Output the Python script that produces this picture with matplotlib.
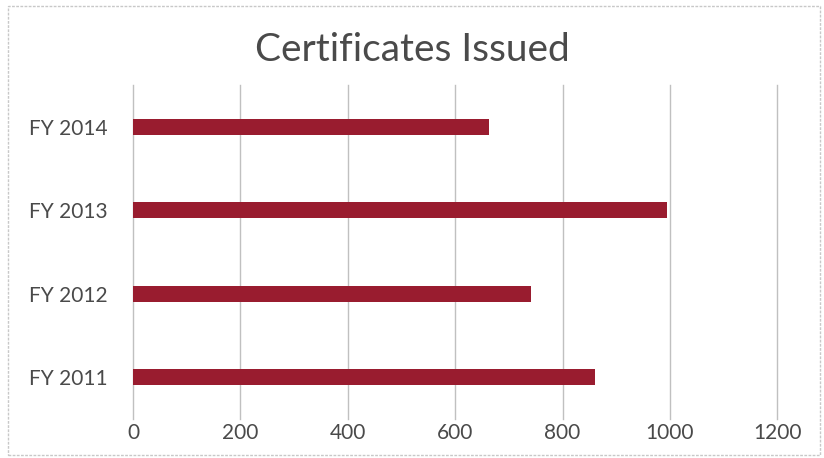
import matplotlib.pyplot as plt
from matplotlib.patches import Rectangle

# Data
years = ["FY 2011", "FY 2012", "FY 2013", "FY 2014"]
certificates = [860, 742, 994, 663]
x_ticks = [0, 200, 400, 600, 800, 1000, 1200]

bar_color = "#991c2f"
text_color = "#4a4a4a"

plt.rcParams["font.family"] = ["Lato", "DejaVu Sans"]

fig = plt.figure(figsize=(8.24, 4.58), dpi=100)
ax = fig.add_axes([0.1614, 0.085, 0.782, 0.729])

ax.barh(years, certificates, height=0.19, color=bar_color, zorder=3)

ax.set_xlim(0, 1200)
ax.set_ylim(-0.5, 3.5)
ax.set_xticks(x_ticks)
ax.set_xticklabels([str(t) for t in x_ticks])
ax.grid(axis="x", color="#c0c0c0", linewidth=1.0, zorder=0)
ax.grid(axis="y", visible=False)
for gl in ax.get_xgridlines():
    gl.set_clip_on(False)

for s in ax.spines.values():
    s.set_visible(False)
ax.tick_params(axis="both", length=0, labelsize=15, labelcolor=text_color)
ax.tick_params(axis="x", pad=3)
ax.tick_params(axis="y", pad=18)

fig.text(0.5, 0.89, "Certificates Issued", ha="center", va="center",
         fontsize=28, color=text_color)

# outer border
fig.patches.append(Rectangle((0.01, 0.006), 0.985, 0.98, transform=fig.transFigure,
                             fill=False, edgecolor="#c8c8c8", linewidth=1.0,
                             linestyle=(0, (2, 1))))

fig.savefig("out.png", dpi=100)
plt.close(fig)
